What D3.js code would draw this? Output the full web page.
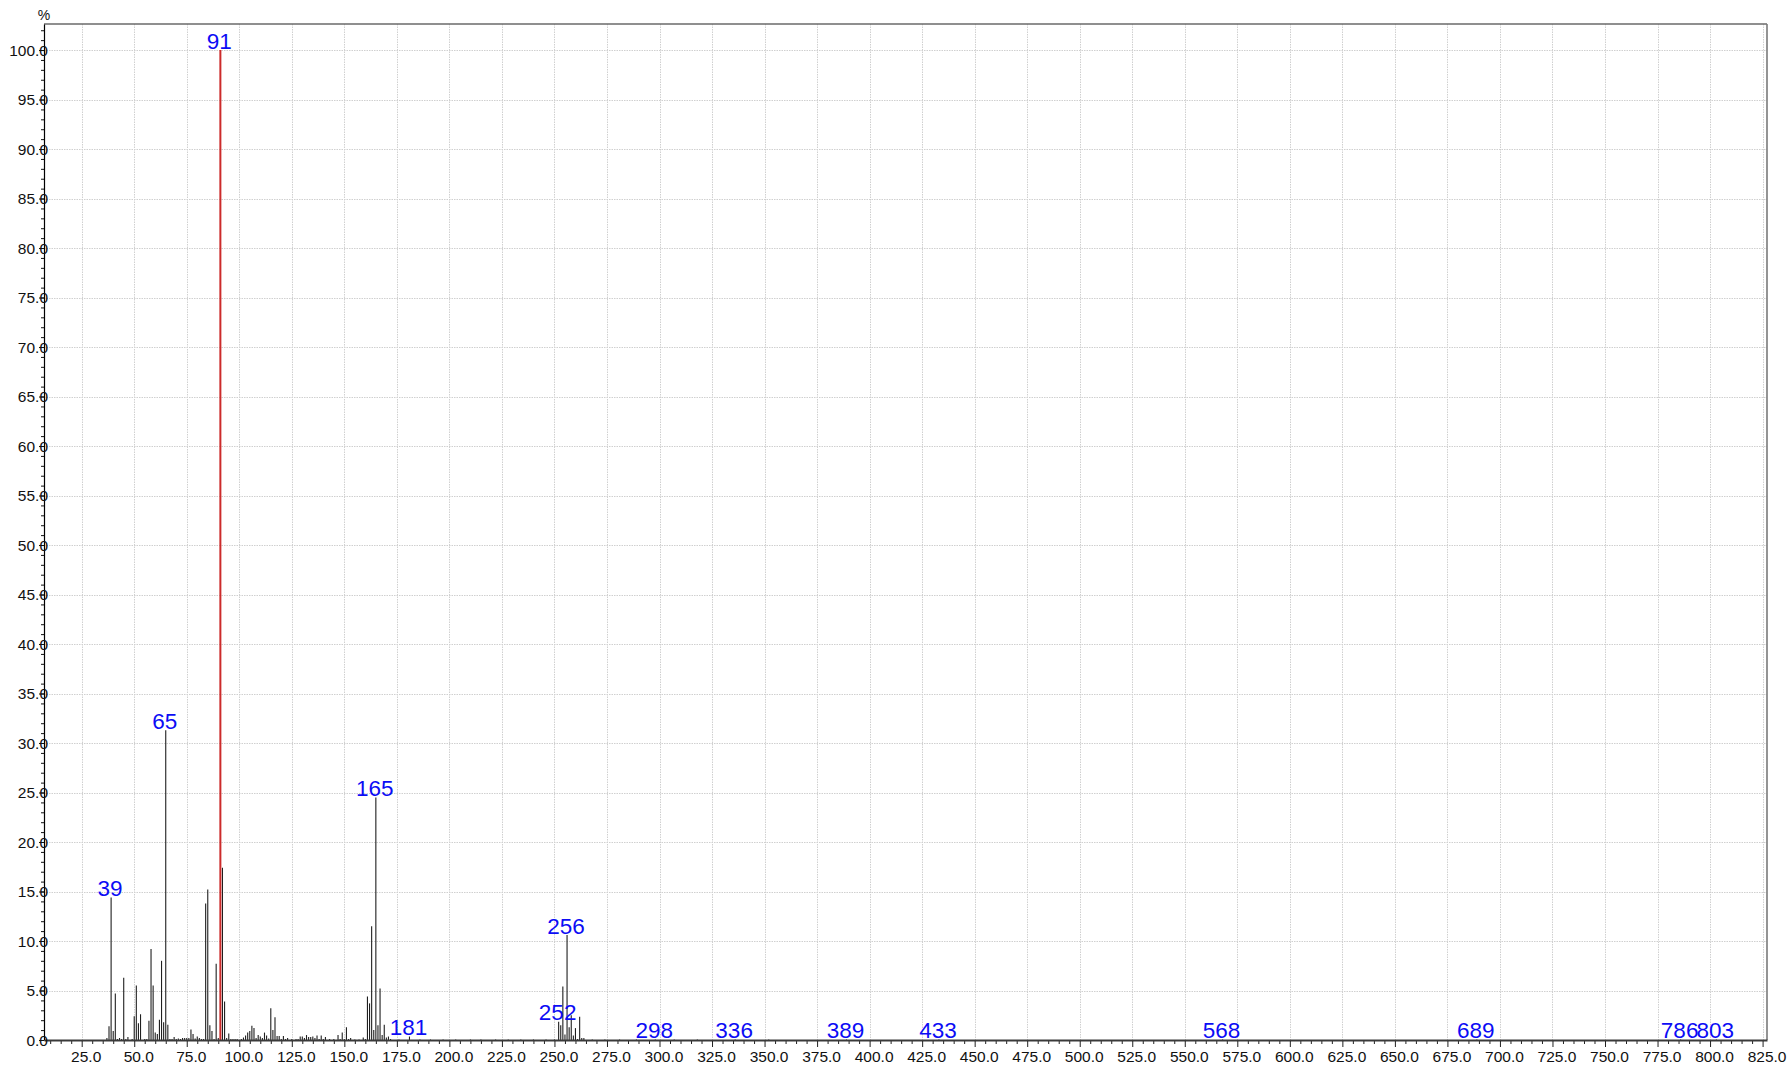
<!DOCTYPE html>
<html>
<head>
<meta charset="utf-8">
<script src="https://cdn.jsdelivr.net/npm/d3@7"></script>
<style>
  html, body { margin: 0; padding: 0; background: #ffffff; }
  svg { display: block; font-family: "Liberation Sans", Arial, Helvetica, sans-serif; }
</style>
</head>
<body>
<svg id="chart" width="1791" height="1066"></svg>
<script>
// Mass spectrum: m/z values and relative intensities (% of base peak)
const massValues = [
  37, 38, 39, 40, 41, 42, 43, 44, 45, 46, 47, 49, 50, 51, 52, 53, 55, 56, 57, 58,
  59, 60, 61, 62, 63, 64, 65, 66, 67, 68, 69, 70, 71, 72, 73, 74, 75, 76, 77, 78,
  79, 80, 81, 82, 83, 84, 85, 86, 87, 88, 89, 90, 91, 92, 93, 94, 95, 96, 97, 98,
  99, 101, 102, 103, 104, 105, 106, 107, 108, 109, 110, 111, 112, 113, 114, 115, 116, 117, 118, 119,
  120, 121, 122, 123, 125, 127, 128, 129, 130, 131, 132, 133, 134, 135, 136, 137, 138, 139, 140, 141,
  143, 145, 147, 148, 149, 150, 151, 152, 153, 155, 157, 159, 160, 161, 162, 163, 164, 165, 166, 167,
  168, 169, 170, 171, 172, 176, 181, 186, 191, 197, 203, 210, 215, 222, 228, 234, 240, 246, 250, 252,
  253, 254, 255, 256, 257, 258, 259, 260, 261, 262, 263, 264, 268, 274, 281, 289, 298, 307, 318, 336,
  352, 389, 433, 568, 689, 786, 803
];
const intensityValues = [
  0.2, 1.4, 14.4, 0.9, 4.7, 0.1, 0.2, 0.1, 6.3, 0.1, 0.3, 0.1, 2.4, 5.5, 1.7, 2.6, 0.1, 0.1, 1.95, 9.2,
  5.5, 0.75, 0.6, 2.05, 8.0, 1.8, 31.3, 1.55, 0.1, 0.1, 0.3, 0.1, 0.15, 0.1, 0.2, 0.2, 0.2, 0.2, 1.05, 0.6,
  0.15, 0.35, 0.2, 0.1, 0.1, 13.8, 15.2, 1.5, 0.9, 0.1, 7.7, 0.2, 100, 17.4, 3.9, 0.2, 0.65, 0.1, 0.1, 0.1,
  0.1, 0.1, 0.25, 0.45, 0.75, 0.9, 1.45, 1.2, 0.2, 0.5, 0.35, 0.2, 0.75, 0.45, 0.15, 3.2, 1.0, 2.3, 0.4, 0.4,
  0.1, 0.4, 0.1, 0.2, 0.1, 0.1, 0.1, 0.35, 0.35, 0.2, 0.5, 0.3, 0.3, 0.35, 0.2, 0.45, 0.1, 0.45, 0.1, 0.3,
  0.1, 0.1, 0.5, 0.1, 0.75, 0.1, 1.3, 0.1, 0.2, 0.05, 0.05, 0.25, 0.1, 4.4, 3.7, 11.5, 1.0, 24.5, 1.5, 5.2,
  0.5, 1.55, 0.25, 0.35, 0.1, 0.05, 0.35, 0.05, 0.05, 0.05, 0.05, 0.05, 0.05, 0.05, 0.05, 0.05, 0.05, 0.05, 0.05, 1.85,
  1.5, 5.4, 0.55, 10.6, 1.3, 2.5, 0.45, 1.2, 0.1, 2.35, 0.2, 0.2, 0.05, 0.05, 0.05, 0.05, 0.05, 0.05, 0.05, 0.05,
  0.05, 0.05, 0.05, 0.05, 0.05, 0.05, 0.05
];
const basePeakMass = 91;
const annotatedMasses = [39, 65, 91, 165, 181, 252, 256, 298, 336, 389, 433, 568, 689, 786, 803];
const xTickValues = [25, 50, 75, 100, 125, 150, 175, 200, 225, 250, 275, 300, 325, 350, 375, 400,
  425, 450, 475, 500, 525, 550, 575, 600, 625, 650, 675, 700, 725, 750, 775, 800, 825];
const yTickValues = [0, 5, 10, 15, 20, 25, 30, 35, 40, 45, 50, 55, 60, 65, 70, 75, 80, 85, 90, 95, 100];
const yUnitLabel = "%";

const peaks = massValues.map((m, i) => ({ mass: m, value: intensityValues[i] }));

const svg = d3.select("#chart");
const plot = { left: 44, right: 1767, top: 24, bottom: 1040 };

const x = d3.scaleLinear().domain([7.06, 827.1]).range([plot.left, plot.right]);
const y = d3.scaleLinear().domain([0, 102.63]).range([plot.bottom, plot.top]);

// Dotted grid
const grid = svg.append("g").attr("class", "grid")
  .attr("stroke", "#d0d0d0").attr("stroke-width", 1).attr("stroke-dasharray", "1.5,1");
grid.selectAll("line.h").data(yTickValues.filter(v => v > 0)).join("line")
  .attr("class", "h")
  .attr("x1", plot.left).attr("x2", plot.right)
  .attr("y1", d => Math.round(y(d)) + 0.5).attr("y2", d => Math.round(y(d)) + 0.5);
grid.selectAll("line.v").data(xTickValues).join("line")
  .attr("class", "v")
  .attr("x1", d => Math.round(x(d)) + 0.5).attr("x2", d => Math.round(x(d)) + 0.5)
  .attr("y1", plot.top).attr("y2", plot.bottom);

// Spectrum sticks
svg.append("g").attr("class", "sticks")
  .selectAll("line").data(peaks).join("line")
  .attr("x1", d => x(d.mass)).attr("x2", d => x(d.mass))
  .attr("y1", y(0)).attr("y2", d => y(d.value))
  .attr("stroke", d => d.mass === basePeakMass ? "#cc2b2b" : "#1f1f1f")
  .attr("stroke-width", d => d.mass === basePeakMass ? 2 : 1.1);

// Frame: top and right edges
svg.append("line").attr("x1", plot.left).attr("x2", plot.right)
  .attr("y1", plot.top).attr("y2", plot.top)
  .attr("stroke", "#6a6a6a").attr("stroke-width", 1.6);
svg.append("line").attr("x1", plot.right).attr("x2", plot.right)
  .attr("y1", plot.top).attr("y2", plot.bottom)
  .attr("stroke", "#7a7a7a").attr("stroke-width", 1.6);

// X axis: minor ticks every 5, labelled majors every 25
const xMinor = d3.range(10, 826, 5).filter(v => v % 25 !== 0);
svg.append("g").attr("transform", `translate(0,${plot.bottom})`)
  .call(d3.axisBottom(x).tickValues(xMinor).tickSize(3).tickSizeOuter(0).tickFormat(""))
  .call(g => g.select(".domain").remove())
  .call(g => g.selectAll(".tick line").attr("stroke", "#222").attr("transform", "translate(0,1)"));

const xAxis = svg.append("g").attr("transform", `translate(0,${plot.bottom})`)
  .call(d3.axisBottom(x).tickValues(xTickValues).tickSize(6).tickSizeOuter(0).tickFormat(d3.format(".1f")));
xAxis.select(".domain").attr("stroke", "#3a3a3a").attr("stroke-width", 2);
xAxis.selectAll(".tick line").attr("stroke", "#222").attr("transform", "translate(0,1)");
xAxis.selectAll(".tick text")
  .attr("y", 22).attr("dy", 0).attr("dx", 4)
  .attr("fill", "#111").attr("font-size", 15.5)
  .attr("font-family", "Liberation Sans, Arial, sans-serif");

// Y axis: minor ticks every 1, labelled majors every 5
svg.append("g").attr("transform", `translate(${plot.left},0)`)
  .call(d3.axisLeft(y).tickValues(d3.range(0, 103, 1)).tickSize(3).tickSizeOuter(0).tickFormat(""))
  .call(g => g.select(".domain").remove())
  .call(g => g.selectAll(".tick line").attr("stroke", "#111"));

const yAxis = svg.append("g").attr("transform", `translate(${plot.left},0)`)
  .call(d3.axisLeft(y).tickValues(yTickValues).tickSize(5).tickSizeOuter(0).tickFormat(d3.format(".1f")));
yAxis.select(".domain").attr("stroke", "#000").attr("stroke-width", 1.2);
yAxis.selectAll(".tick line").attr("stroke", "#111");
yAxis.selectAll(".tick text")
  .attr("x", 4).attr("dy", "0.34em")
  .attr("fill", "#111").attr("font-size", 15.5)
  .attr("font-family", "Liberation Sans, Arial, sans-serif");

svg.append("text")
  .attr("x", plot.left).attr("y", 20)
  .attr("text-anchor", "middle")
  .attr("font-size", 14).attr("fill", "#111")
  .text(yUnitLabel);

// Peak annotations
const annotated = peaks.filter(p => annotatedMasses.includes(p.mass));
svg.append("g").attr("class", "annotations")
  .selectAll("text").data(annotated).join("text")
  .attr("x", d => x(d.mass) - 1)
  .attr("y", d => y(d.value) - 1.5)
  .attr("text-anchor", "middle")
  .attr("font-size", 22.5)
  .attr("fill", "#0c0cf5")
  .text(d => d.mass);
</script>
</body>
</html>
